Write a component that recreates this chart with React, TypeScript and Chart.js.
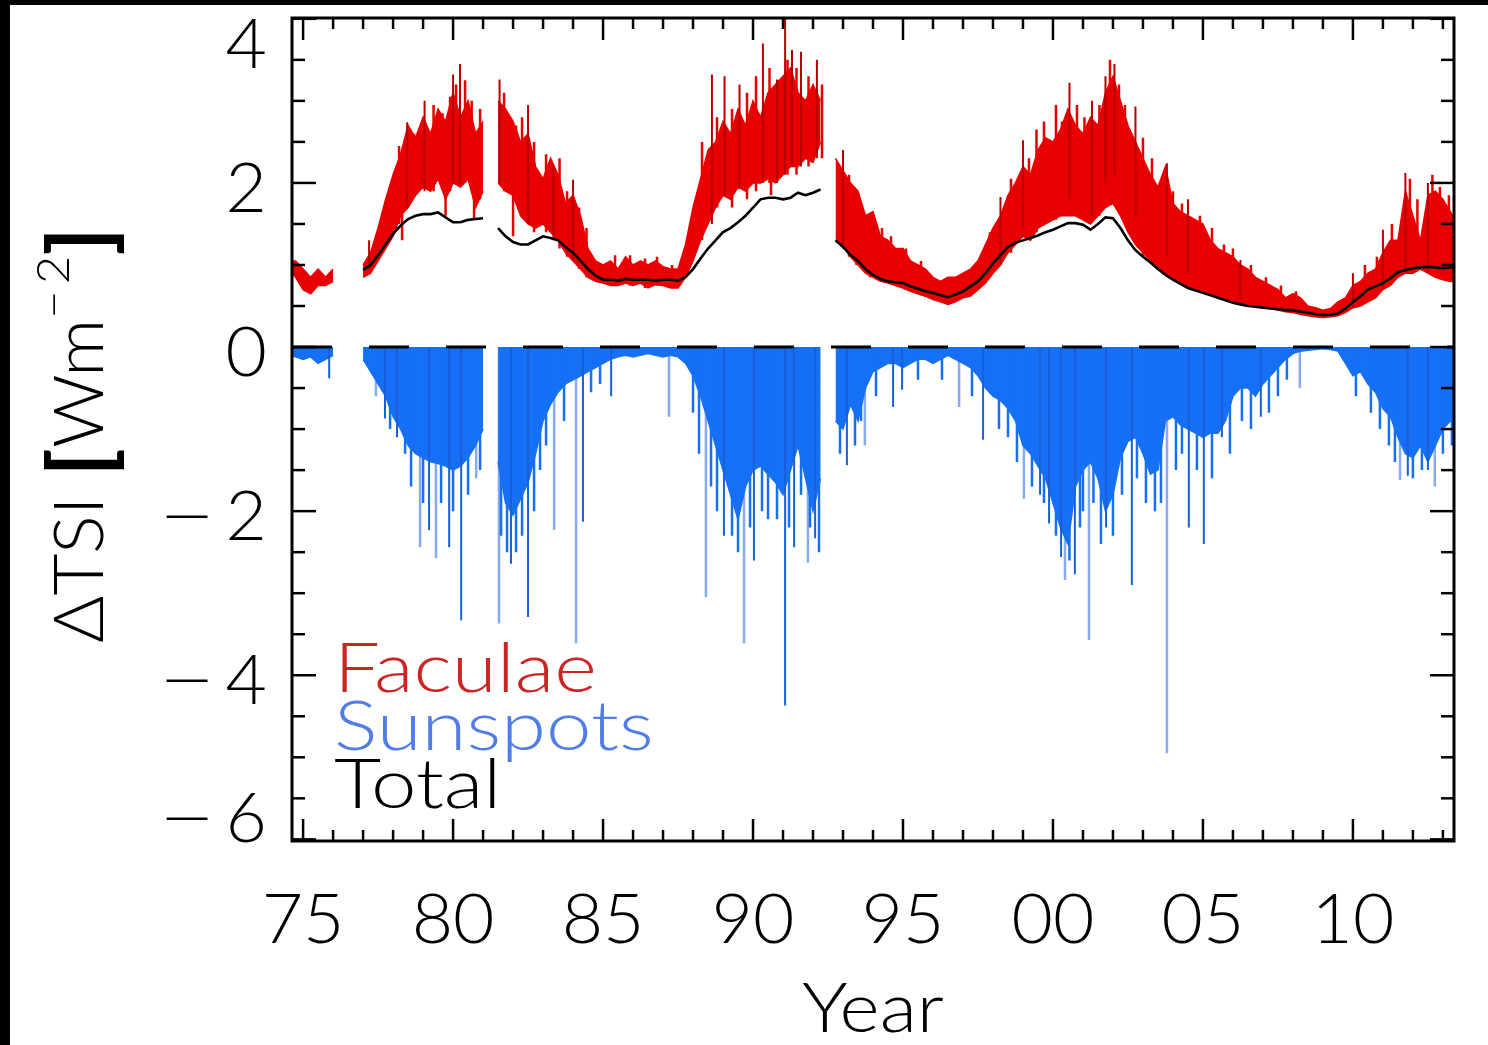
import React, { useEffect, useRef } from 'react';
import { Chart, registerables } from 'chart.js';

Chart.register(...registerables);

// ---- x grid (quarter-year sampling of the records) ----
const GRID_START = 1974.5;
const GRID_STEP = 0.25;

// Faculae contribution: upper and lower edge of the band (W m^-2), null = data gap
const faculaeHigh: (number | null)[] = [
  1.05, 1.05,
  0.95, 0.85, 0.95, 0.85, // 1975
  0.95, null, null, null, // 1976
  1.0, 1.15, 1.45, 1.8, // 1977
  2.1, 2.35, 2.7, 2.55, // 1978
  2.8, 2.6, 2.9, 2.75, // 1979
  3.1, 2.8, 3.0, 2.6, // 1980
  2.75, null, 3.0, 2.9, // 1981
  2.75, 2.5, 2.6, 2.2, // 1982
  2.05, 2.3, 2.1, 1.75, // 1983
  1.85, 1.6, 1.2, 1.05, // 1984
  1.0, 1.05, 0.95, 1.1, // 1985
  1.0, 1.05, 1.0, 1.05, // 1986
  0.98, 0.95, 0.95, 1.25, // 1987
  1.7, 2.05, 2.4, 2.5, // 1988
  2.75, 2.6, 2.9, 2.7, // 1989
  3.0, 2.8, 3.1, 3.2, // 1990
  3.3, 3.4, 3.1, 3.0, // 1991
  3.2, 3.0, null, 2.3, // 1992
  2.15, 2.0, 1.9, 1.6, // 1993
  1.65, 1.35, 1.3, 1.2, // 1994
  1.2, 1.05, 1.0, 0.95, // 1995
  0.85, 0.8, 0.85, 0.85, // 1996
  0.9, 0.95, 1.05, 1.25, // 1997
  1.45, 1.6, 1.85, 2.0, // 1998
  2.2, 2.1, 2.4, 2.55, // 1999
  2.5, 2.65, 2.9, 2.7, // 2000
  2.6, 2.8, 2.7, 3.1, // 2001
  3.3, 3.0, 2.7, 2.5, // 2002
  2.3, 2.1, 1.95, 2.2, // 2003
  1.75, 1.65, 1.6, 1.55, // 2004
  1.5, 1.3, 1.2, 1.15, // 2005
  1.1, 1.0, 0.95, 0.85, // 2006
  0.8, 0.75, 0.7, 0.6, // 2007
  0.65, 0.6, 0.5, 0.48, // 2008
  0.45, 0.47, 0.55, 0.6, // 2009
  0.75, 0.8, 0.9, 0.95, // 2010
  1.15, 1.3, 1.3, 1.9, // 2011
  1.6, 1.3, 1.85, 1.9, // 2012
  1.8, 1.65, 1.5, // 2013
];

const faculaeLow: (number | null)[] = [
  0.95, 0.85,
  0.7, 0.65, 0.75, 0.75, // 1975
  0.8, null, null, null, // 1976
  0.85, 0.9, 1.05, 1.2, // 1977
  1.35, 1.6, 1.7, 1.85, // 1978
  1.95, 1.9, 2.05, 1.8, // 1979
  2.0, 1.95, 2.05, 1.7, // 1980
  1.9, null, 2.0, 1.9, // 1981
  1.85, 1.6, 1.5, 1.45, // 1982
  1.5, 1.4, 1.3, 1.15, // 1983
  1.05, 0.95, 0.85, 0.8, // 1984
  0.78, 0.75, 0.75, 0.78, // 1985
  0.75, 0.78, 0.72, 0.76, // 1986
  0.75, 0.72, 0.72, 0.85, // 1987
  1.05, 1.3, 1.5, 1.7, // 1988
  1.85, 1.8, 1.95, 1.9, // 1989
  2.0, 2.0, 2.05, 2.0, // 1990
  2.1, 2.2, 2.2, 2.3, // 1991
  2.25, 2.5, null, 1.3, // 1992
  1.25, 1.1, 1.0, 0.9, // 1993
  0.85, 0.8, 0.78, 0.75, // 1994
  0.72, 0.68, 0.65, 0.62, // 1995
  0.58, 0.55, 0.52, 0.55, // 1996
  0.6, 0.62, 0.7, 0.78, // 1997
  0.9, 1.0, 1.15, 1.25, // 1998
  1.35, 1.3, 1.45, 1.5, // 1999
  1.55, 1.6, 1.6, 1.6, // 2000
  1.55, 1.5, 1.6, 1.7, // 2001
  1.75, 1.6, 1.4, 1.25, // 2002
  1.15, 1.05, 0.97, 0.9, // 2003
  0.84, 0.79, 0.74, 0.71, // 2004
  0.68, 0.65, 0.62, 0.59, // 2005
  0.56, 0.54, 0.52, 0.51, // 2006
  0.49, 0.47, 0.45, 0.43, // 2007
  0.42, 0.4, 0.38, 0.37, // 2008
  0.36, 0.37, 0.38, 0.42, // 2009
  0.48, 0.5, 0.55, 0.6, // 2010
  0.7, 0.75, 0.85, 0.9, // 2011
  0.9, 0.95, 0.9, 0.85, // 2012
  0.82, 0.8, 0.8, // 2013
];

// Total (smoothed) change
const totalChange: (number | null)[] = [
  null, null,
  null, null, null, null, // 1975
  null, null, null, null, // 1976
  0.94, 1.0, 1.12, 1.25, // 1977
  1.38, 1.48, 1.56, 1.6, // 1978
  1.62, 1.62, 1.64, 1.58, // 1979
  1.52, 1.52, 1.55, 1.56, // 1980
  1.57, null, 1.45, 1.35, // 1981
  1.28, 1.25, 1.25, 1.3, // 1982
  1.35, 1.33, 1.3, 1.22, // 1983
  1.15, 1.05, 0.95, 0.87, // 1984
  0.82, 0.82, 0.81, 0.83, // 1985
  0.82, 0.82, 0.82, 0.81, // 1986
  0.82, 0.82, 0.81, 0.85, // 1987
  0.95, 1.08, 1.2, 1.3, // 1988
  1.4, 1.45, 1.52, 1.6, // 1989
  1.7, 1.8, 1.82, 1.82, // 1990
  1.8, 1.82, 1.88, 1.85, // 1991
  1.88, 1.92, null, 1.3, // 1992
  1.22, 1.12, 1.05, 0.95, // 1993
  0.88, 0.83, 0.8, 0.79, // 1994
  0.78, 0.74, 0.71, 0.68, // 1995
  0.66, 0.63, 0.61, 0.64, // 1996
  0.68, 0.74, 0.8, 0.9, // 1997
  1.02, 1.12, 1.22, 1.27, // 1998
  1.3, 1.33, 1.36, 1.4, // 1999
  1.43, 1.47, 1.51, 1.51, // 2000
  1.49, 1.43, 1.5, 1.58, // 2001
  1.57, 1.45, 1.3, 1.18, // 2002
  1.1, 1.03, 0.95, 0.88, // 2003
  0.82, 0.77, 0.72, 0.69, // 2004
  0.66, 0.63, 0.6, 0.57, // 2005
  0.54, 0.52, 0.5, 0.49, // 2006
  0.48, 0.47, 0.46, 0.45, // 2007
  0.45, 0.43, 0.42, 0.4, // 2008
  0.39, 0.39, 0.41, 0.47, // 2009
  0.55, 0.62, 0.7, 0.74, // 2010
  0.78, 0.84, 0.91, 0.94, // 2011
  0.96, 0.97, 0.98, 0.97, // 2012
  0.96, 0.97, 0.97, // 2013
];

// Sunspot darkening: bottom of the dense band
const sunspotBand: (number | null)[] = [
  -0.1, -0.12,
  -0.15, -0.12, -0.2, -0.15, // 1975
  -0.1, null, null, null, // 1976
  -0.15, -0.3, -0.45, -0.6, // 1977
  -0.85, -1.0, -1.2, -1.3, // 1978
  -1.35, -1.4, -1.42, -1.45, // 1979
  -1.5, -1.45, -1.35, -1.2, // 1980
  -1.0, null, -1.4, -1.9, // 1981
  -2.05, -1.85, -1.65, -1.3, // 1982
  -0.9, -0.7, -0.55, -0.45, // 1983
  -0.4, -0.35, -0.3, -0.25, // 1984
  -0.2, -0.15, -0.12, -0.1, // 1985
  -0.12, -0.1, -0.08, -0.1, // 1986
  -0.12, -0.1, -0.12, -0.2, // 1987
  -0.35, -0.6, -0.9, -1.2, // 1988
  -1.5, -1.8, -2.1, -1.7, // 1989
  -1.5, -1.45, -1.55, -1.65, // 1990
  -1.8, -1.5, -1.2, -1.6, // 1991
  -2.0, -1.6, null, -0.9, // 1992
  -1.0, -0.7, -0.9, -0.5, // 1993
  -0.3, -0.25, -0.2, -0.2, // 1994
  -0.25, -0.2, -0.15, -0.15, // 1995
  -0.2, -0.15, -0.1, -0.15, // 1996
  -0.2, -0.25, -0.35, -0.5, // 1997
  -0.6, -0.65, -0.75, -0.9, // 1998
  -1.2, -1.3, -1.45, -1.6, // 1999
  -1.9, -2.2, -2.4, -1.7, // 2000
  -1.5, -1.4, -1.6, -2.0, // 2001
  -1.8, -1.35, -1.15, -1.1, // 2002
  -1.3, -1.55, -1.5, -0.9, // 2003
  -0.85, -0.95, -1.0, -1.05, // 2004
  -1.1, -1.05, -1.05, -0.9, // 2005
  -0.6, -0.5, -0.5, -0.6, // 2006
  -0.45, -0.35, -0.25, -0.15, // 2007
  -0.08, -0.05, -0.04, -0.03, // 2008
  -0.02, -0.03, -0.05, -0.2, // 2009
  -0.35, -0.3, -0.45, -0.55, // 2010
  -0.75, -0.85, -1.1, -1.3, // 2011
  -1.35, -1.2, -1.4, -1.2, // 2012
  -1.0, -0.9, -0.85, // 2013
];

// Individual faculae peaks (dark): [year, bottom, top]
const faculaePeaksDark: [number, number, number][] = [
  [1977.2, 0.95, 1.3], [1978.47, 1.7, 2.74], [1979.05, 1.9, 3.0], [1980.0, 2.0, 3.32],
  [1980.23, 2.0, 3.45], [1981.55, 2.0, 3.26], [1982.5, 1.5, 2.95], [1983.35, 1.3, 2.2],
  [1984.0, 1.05, 2.04], [1988.63, 1.5, 3.32], [1989.05, 1.85, 3.3], [1989.55, 1.95, 3.2],
  [1990.33, 2.0, 3.7], [1990.8, 2.0, 3.26], [1991.07, 2.1, 4.05], [1991.3, 2.2, 3.62],
  [1991.6, 2.2, 3.6], [1992.13, 2.3, 3.5], [1993.0, 1.2, 2.4], [1998.25, 1.0, 1.83],
  [1999.0, 1.45, 2.52], [2000.55, 1.8, 3.22], [2001.3, 1.6, 3.0], [2001.75, 2.0, 3.3],
  [2002.05, 2.1, 3.45], [2002.75, 1.6, 2.93], [2003.8, 1.1, 2.24], [2004.5, 0.9, 1.8],
  [2006.25, 0.58, 1.06], [2010.0, 0.48, 0.9], [2011.0, 0.7, 1.43], [2011.75, 0.9, 2.12],
  [2012.5, 0.9, 2.0],
];
// Further faculae peaks and dips (band colour): [year, bottom, top]
const faculaePeaks: [number, number, number][] = [
  [1978.2, 1.5, 2.45], [1978.3, 1.3, 1.8], [1978.7, 1.85, 2.6], [1979.35, 1.9, 2.95],
  [1979.65, 2.0, 2.85], [1979.75, 1.6, 2.0], [1979.9, 1.9, 3.05], [1980.1, 2.0, 3.2],
  [1980.4, 2.0, 3.25], [1980.62, 1.9, 3.0], [1980.7, 1.55, 1.9], [1980.9, 1.8, 2.9],
  [1981.7, 1.9, 3.1], [1981.85, 1.9, 2.8], [1982.0, 1.35, 1.9], [1982.1, 1.8, 2.7],
  [1982.3, 1.6, 2.8], [1982.7, 1.4, 2.5], [1983.1, 1.4, 2.35], [1983.55, 1.2, 2.3],
  [1983.8, 1.1, 1.9], [1984.2, 0.95, 1.7], [1984.45, 0.85, 1.45],
  [1985.4, 0.75, 1.12], [1985.9, 0.75, 1.12], [1986.4, 0.72, 1.08], [1986.8, 0.75, 1.1],
  [1987.3, 0.72, 1.0], [1988.3, 1.3, 2.5], [1988.8, 1.7, 2.8], [1989.3, 1.7, 2.9],
  [1989.8, 1.8, 3.1], [1990.1, 1.9, 3.3], [1990.55, 2.0, 3.4], [1990.6, 1.85, 2.1],
  [1991.15, 2.1, 3.5], [1991.45, 2.1, 3.4], [1991.85, 2.2, 3.3], [1992.3, 2.3, 3.2],
  [1993.2, 1.1, 2.1], [1993.45, 1.0, 1.85], [1993.9, 0.85, 1.6], [1994.3, 0.8, 1.45],
  [1994.6, 0.78, 1.35], [1995.1, 0.7, 1.2], [1995.6, 0.63, 1.05],
  [1997.9, 0.85, 1.4], [1998.6, 1.15, 2.05], [1999.2, 1.3, 2.3], [1999.45, 1.4, 2.65],
  [1999.7, 1.5, 2.75], [2000.1, 1.55, 2.95], [2000.3, 1.6, 2.75], [2000.8, 1.6, 2.95],
  [2001.05, 1.55, 2.8], [2001.55, 1.6, 2.95], [2001.9, 1.75, 3.5], [2002.2, 1.9, 3.2],
  [2002.4, 1.8, 2.95], [2003.0, 1.1, 2.55], [2003.3, 1.05, 2.3], [2004.0, 0.84, 1.9],
  [2004.3, 0.8, 1.75], [2004.9, 0.7, 1.6], [2005.3, 0.65, 1.45], [2005.7, 0.6, 1.25],
  [2006.0, 0.56, 1.2], [2006.6, 0.52, 1.0], [2007.1, 0.49, 0.85], [2007.6, 0.45, 0.75],
  [2008.1, 0.42, 0.68], [2010.4, 0.6, 1.0], [2010.8, 0.65, 1.1], [2011.3, 0.78, 1.5],
  [2011.9, 0.9, 2.05], [2012.15, 0.95, 1.8], [2012.65, 0.9, 2.1], [2012.9, 0.85, 1.95],
  [2013.2, 0.82, 1.85],
];

// Individual sunspot dips: [year, value]
const sunspotDipsPale: [number, number][] = [
  [1977.43, -0.6], [1978.9, -2.44], [1979.43, -2.57], [1980.77, -1.6], [1981.53, -3.37],
  [1983.37, -2.23], [1984.1, -3.61], [1987.2, -0.85], [1988.43, -3.05], [1989.7, -3.61],
  [1991.83, -2.63], [1993.73, -1.2], [1996.87, -0.73], [1999.03, -1.85], [2000.4, -2.84],
  [2001.2, -3.57], [2003.8, -4.95], [2008.23, -0.5], [2011.57, -1.62], [2012.73, -1.7],
];
const sunspotDipsDeep: [number, number][] = [
  [1975.87, -0.38], [1977.73, -0.87], [1978.13, -1.1], [1979.2, -2.23], [1979.87, -2.44],
  [1980.27, -3.33], [1981.93, -2.64], [1982.5, -3.29], [1984.33, -2.13], [1985.27, -0.6],
  [1989.03, -2.3], [1990.03, -2.6], [1991.07, -4.37], [1991.37, -2.44], [1992.07, -2.33],
  [1993.13, -1.44], [1994.67, -0.73], [1994.97, -0.52], [1997.67, -1.13], [1999.57, -1.8],
  [1999.87, -2.15], [2000.27, -2.56], [2000.73, -2.77], [2001.77, -2.2], [2002.63, -2.9],
  [2004.53, -2.2], [2005.03, -2.4], [2005.63, -1.1], [2006.93, -0.85], [2011.83, -1.57],
  [2012.5, -1.5],
];
const sunspotDipsBand: [number, number][] = [
  [1977.9, -1.0], [1978.4, -1.3], [1978.6, -1.7], [1979.0, -1.9], [1979.6, -1.9],
  [1980.0, -2.0], [1980.5, -1.8], [1980.9, -1.5], [1981.6, -2.3], [1981.8, -2.5],
  [1982.1, -2.5], [1982.3, -2.3], [1982.7, -2.0], [1982.9, -1.5], [1983.1, -1.2],
  [1983.7, -0.9], [1984.6, -0.55], [1984.9, -0.45], [1988.0, -0.8], [1988.2, -1.3],
  [1988.6, -1.7], [1988.8, -2.0], [1989.3, -2.3], [1989.5, -2.5], [1989.9, -2.2],
  [1990.3, -2.0], [1990.5, -2.1], [1990.8, -2.1], [1991.2, -2.2], [1991.6, -1.8],
  [1991.9, -2.2], [1992.2, -2.5], [1992.9, -1.3], [1993.4, -1.2], [1993.6, -0.9],
  [1994.1, -0.6], [1995.5, -0.4], [1996.3, -0.4], [1997.3, -0.6], [1998.2, -1.0],
  [1998.5, -1.1], [1998.8, -1.4], [1999.3, -1.7], [1999.7, -1.9], [2000.1, -2.3],
  [2000.55, -2.6], [2000.9, -2.2], [2001.0, -2.0], [2001.35, -1.9], [2001.6, -2.4],
  [2002.0, -2.3], [2002.3, -1.8], [2002.8, -1.6], [2003.1, -1.9], [2003.4, -2.0],
  [2003.6, -1.9], [2004.1, -1.5], [2004.3, -1.3], [2004.8, -1.5], [2005.3, -1.6],
  [2005.9, -1.3], [2006.3, -0.9], [2006.6, -1.0], [2007.2, -0.8], [2007.5, -0.6],
  [2007.8, -0.4], [2010.1, -0.6], [2010.6, -0.8], [2010.9, -1.0], [2011.2, -1.2],
  [2011.4, -1.4], [2012.0, -1.6], [2012.3, -1.5], [2013.0, -1.3], [2013.3, -1.2],
];

// Axis ticks and labels
const xMajorYears = [1975, 1980, 1985, 1990, 1995, 2000, 2005, 2010];
const xMinorStepYears = 1;
const yMajorValues = [4, 2, 0, -2, -4, -6];
const yMinorStep = 0.5;
const X_MIN = 1974.63;
const X_MAX = 2013.37;
const Y_MIN = -6.02;
const Y_MAX = 4.01;

const legendLabels = ['Faculae', 'Sunspots', 'Total'];
const legendColors = ['rgb(205,35,35)', 'rgb(80,125,230)', '#000000'];
const xTitle = 'Year';
const yTitleLength = 416; // px along the rotated title

const FONT = "300 68px Lato, sans-serif";
const FONT_SUP = "300 46px Lato, sans-serif";
const FONT_BRACKET = "700 86px Lato, sans-serif";

const years = faculaeHigh.map((_, i) => GRID_START + i * GRID_STEP);
const toPoints = (vals: (number | null)[]) => vals.map((v, i) => ({ x: years[i], y: v }));
const peakPoints = (list: [number, number, number][]) =>
  list.flatMap(([x, lo, hi]) => [{ x, y: lo }, { x, y: hi }, { x, y: null as number | null }]);
const dipPoints = (list: [number, number][]) =>
  list.flatMap(([x, v]) => [{ x, y: 0 }, { x, y: v }, { x, y: null as number | null }]);

const fmtYear = (y: number) => String(y % 100).padStart(2, '0');
const MINUS = '\u2212';

const framePlugin = {
  id: 'idlFrame',
  beforeDraw(chart: any) {
    const { ctx, width, height } = chart;
    ctx.save();
    ctx.fillStyle = '#ffffff';
    ctx.fillRect(0, 0, width, height);
    ctx.fillStyle = '#000000';
    ctx.fillRect(0, 0, width, 5);
    ctx.fillRect(0, 0, 10, height);
    ctx.restore();
  },
  afterDraw(chart: any) {
    const { ctx, chartArea: ca } = chart;
    const xs = chart.scales.x;
    const ys = chart.scales.y;
    ctx.save();
    ctx.strokeStyle = '#000';
    ctx.lineWidth = 3;
    ctx.strokeRect(ca.left, ca.top, ca.right - ca.left, ca.bottom - ca.top);
    ctx.lineWidth = 2.5;
    const line = (x1: number, y1: number, x2: number, y2: number) => {
      ctx.beginPath();
      ctx.moveTo(x1, y1);
      ctx.lineTo(x2, y2);
      ctx.stroke();
    };
    for (let yr = Math.ceil(X_MIN); yr <= X_MAX; yr += xMinorStepYears) {
      const px = xs.getPixelForValue(yr);
      const len = xMajorYears.includes(yr) ? 22 : 11;
      line(px, ca.bottom, px, ca.bottom - len);
      line(px, ca.top, px, ca.top + len);
    }
    for (let v = -6; v <= 4.001; v += yMinorStep) {
      const py = ys.getPixelForValue(v);
      const len = yMajorValues.includes(Math.round(v * 10) / 10) ? 24 : 13;
      line(ca.left, py, ca.left + len, py);
      line(ca.right, py, ca.right - len, py);
    }

    const text = (t: string, x: number, y: number, align: CanvasTextAlign, color = '#000', sx = 1) => {
      ctx.save();
      ctx.translate(x, y);
      ctx.scale(sx, 1);
      ctx.font = FONT;
      ctx.fillStyle = color;
      ctx.textAlign = align;
      ctx.textBaseline = 'alphabetic';
      ctx.fillText(t, 0, 0);
      const w = ctx.measureText(t).width * sx;
      ctx.restore();
      return w;
    };

    // tick labels
    xMajorYears.forEach((yr) => text(fmtYear(yr), xs.getPixelForValue(yr), 943, 'center', '#000', 1.05));
    yMajorValues.forEach((v) => {
      const py = ys.getPixelForValue(v);
      const base = Math.min(Math.max(py + 29, ca.top + 50), ca.bottom + 1);
      const w = text(String(Math.abs(v)), 267, base, 'right', '#000', 1.05);
      if (v < 0) text(MINUS, 267 - w - 10, base, 'right', '#000', 1.45);
    });

    // x title
    text(xTitle, (ca.left + ca.right) / 2, 1032, 'center', '#000', 1.13);

    // legend
    legendLabels.forEach((lab, i) => text(lab, 334, 692 + i * 58, 'left', legendColors[i], 1.2));

    // y title (rotated) : ΔTSI [Wm^-2]
    ctx.save();
    ctx.translate(103, 435);
    ctx.rotate(-Math.PI / 2);
    ctx.fillStyle = '#000';
    const parts: { t: string; font: string; dy: number }[] = [
      { t: '\u0394TSI ', font: FONT, dy: 0 },
      { t: '[', font: FONT_BRACKET, dy: 8 },
      { t: 'Wm', font: FONT, dy: 0 },
      { t: MINUS + '\u20092', font: FONT_SUP, dy: -34 },
      { t: ']', font: FONT_BRACKET, dy: 8 },
    ];
    let total = 0;
    const widths = parts.map((p) => {
      ctx.font = p.font;
      const w = ctx.measureText(p.t).width;
      total += w;
      return w;
    });
    ctx.scale(yTitleLength / total, 1);
    let cx = -total / 2;
    ctx.textAlign = 'left';
    ctx.textBaseline = 'alphabetic';
    parts.forEach((p, i) => {
      ctx.font = p.font;
      ctx.fillText(p.t, cx, p.dy);
      cx += widths[i];
    });
    ctx.restore();
    ctx.restore();
  },
};

export default function App() {
  const ref = useRef<HTMLCanvasElement | null>(null);
  useEffect(() => {
    if (!ref.current) return;
    const RED = 'rgb(232,0,0)';
    const BLUE = 'rgb(22,112,245)';
    const line = (extra: any) => ({ pointRadius: 0, spanGaps: false, tension: 0, ...extra });
    const chart = new Chart(ref.current, {
      type: 'line',
      data: {
        datasets: [
          line({ label: 'zero', data: [{ x: X_MIN, y: 0 }, { x: X_MAX, y: 0 }], borderColor: '#000', borderWidth: 3, borderDash: [40, 37], order: 0 }),
          line({ label: 'Total', data: toPoints(totalChange), borderColor: '#000', borderWidth: 2.6, order: 1 }),
          line({ label: 'Sunspots (deep)', data: dipPoints(sunspotDipsDeep), borderColor: 'rgb(25,95,215)', borderWidth: 2, order: 2 }),
          line({ label: 'Faculae (dark peaks)', data: peakPoints(faculaePeaksDark), borderColor: 'rgb(185,0,0)', borderWidth: 2, order: 3 }),
          line({ label: 'Faculae (peaks)', data: peakPoints(faculaePeaks), borderColor: RED, borderWidth: 2.5, order: 3 }),
          line({ label: 'Faculae', data: toPoints(faculaeHigh), borderColor: RED, backgroundColor: RED, borderWidth: 1.5, fill: '+1', order: 4 }),
          line({ label: 'Faculae (low)', data: toPoints(faculaeLow), borderColor: RED, borderWidth: 1.5, order: 4 }),
          line({ label: 'Sunspots (band dips)', data: dipPoints(sunspotDipsBand), borderColor: BLUE, borderWidth: 2.5, order: 5 }),
          line({ label: 'Sunspots', data: toPoints(sunspotBand), borderColor: BLUE, backgroundColor: BLUE, borderWidth: 1.5, fill: 'origin', order: 5 }),
          line({ label: 'Sunspots (pale)', data: dipPoints(sunspotDipsPale), borderColor: 'rgba(130,165,240,0.95)', borderWidth: 2.5, order: 6 }),
        ],
      },
      options: {
        animation: false,
        responsive: false,
        events: [],
        layout: { padding: { left: 292, top: 18, right: 34, bottom: 204 } },
        scales: {
          x: { type: 'linear', min: X_MIN, max: X_MAX, display: false },
          y: { type: 'linear', min: Y_MIN, max: Y_MAX, display: false },
        },
        plugins: { legend: { display: false }, tooltip: { enabled: false } },
      },
      plugins: [framePlugin],
    } as any);
    return () => chart.destroy();
  }, []);
  return (
    <div style={{ position: 'fixed', left: 0, top: 0, width: 1488, height: 1045, background: '#fff' }}>
      <canvas ref={ref} width={1488} height={1045} style={{ width: 1488, height: 1045, display: 'block' }} />
    </div>
  );
}
